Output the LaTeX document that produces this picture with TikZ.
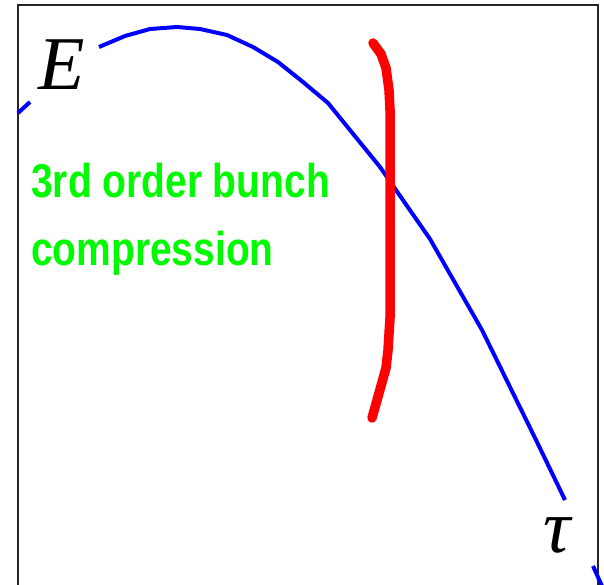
\documentclass[tikz,border=0pt]{standalone}
\usepackage{fontspec}
\setmainfont{Liberation Serif}
\newfontfamily\labfont[FakeStretch=0.82]{Liberation Sans}
\definecolor{pureblue}{RGB}{0,0,255}
\definecolor{purered}{RGB}{255,0,0}
\definecolor{puregreen}{RGB}{0,250,0}
\tikzset{
  frameline/.style={draw=black!85, line width=1.5pt},
  ecurve/.style={draw=pureblue, line width=4pt},
  bunch/.style={draw=purered, line width=9.5pt, line cap=round, line join=round},
  axislabel/.style={inner sep=0pt, anchor=base west, font=\fontsize{76}{80}\selectfont\itshape},
  note/.style={inner sep=0pt, anchor=base west, text=puregreen, font=\labfont\bfseries\fontsize{47.5}{50}\selectfont}
}
\begin{document}
\begin{tikzpicture}[x=1pt,y=-1pt]
\clip (0,0) rectangle (604,584);
\fill[white] (0,0) rectangle (604,584);
% frame
\draw[frameline] (18,620) -- (18,5) -- (598,5) -- (598,620);
% E(tau) curve, interrupted by the labels
\draw[ecurve] (18,113) -- (30,102);
\draw[ecurve] (99,47) -- (125,36) -- (150,29) -- (177,27) -- (200,29) -- (227,35)
  -- (253,47) -- (278,62) -- (303,82) -- (328,103) -- (380,167) -- (430,239)
  -- (482,330) -- (537,442) -- (565,500);
\draw[ecurve] (593,566) -- (602,586);
% bunch
\draw[bunch] (373,43) -- (381,54) -- (386,68) -- (389,90) -- (390,110) -- (390,318)
  -- (388,350) -- (386,368) -- (372,418);
% labels
\node[axislabel] (E) at (38,89) {E};
\node[axislabel] (tau) at (543,552) {τ};
\node[note] (l1) at (31,197) {3rd order bunch};
\node[note] (l2) at (31,265) {compression};
\end{tikzpicture}
\end{document}
